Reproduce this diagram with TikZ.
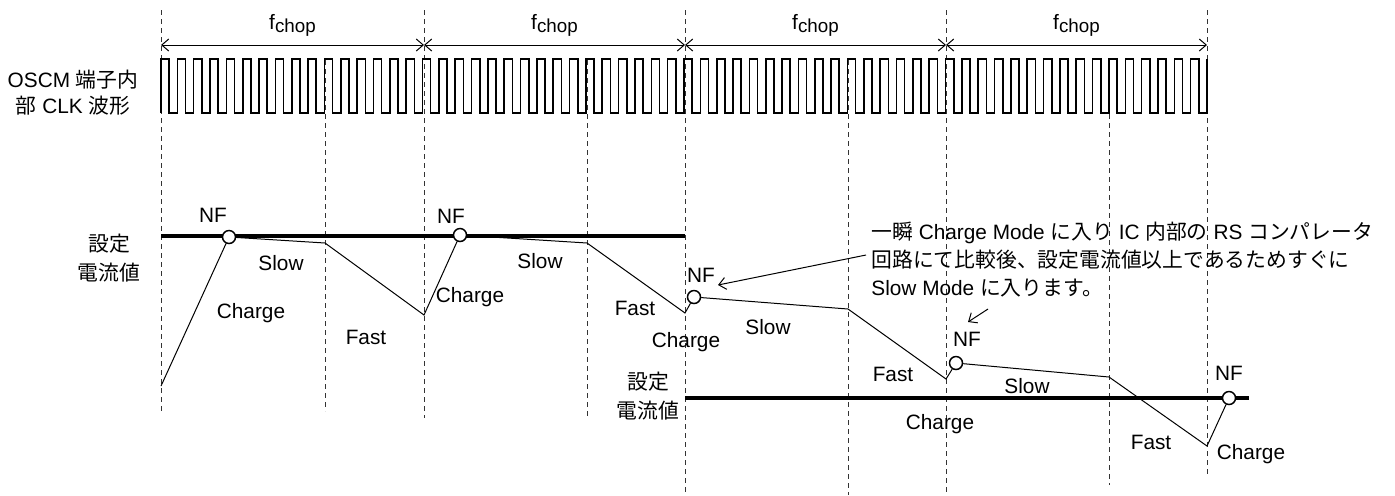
\documentclass[tikz,border=0pt]{standalone}
\usepackage{fontspec}
\setmainfont{Liberation Sans}
\newfontfamily\jpfont{Noto Sans CJK JP}
\newcommand{\jp}[1]{{\jpfont #1}}
\newcommand{\fchop}{f\raisebox{-0.3ex}{\fontsize{9.4}{11}\selectfont chop}}
\usetikzlibrary{arrows.meta,positioning}

\begin{document}
\begin{tikzpicture}[
    % GLOBAL CFG
    x=0.5pt, y=-0.5pt,
    font=\fontsize{10.4}{12}\selectfont,
    >={Straight Barb[length=3.5pt,width=6pt]},
    % Styles
    tmark/.style={% dashed time marks
        dash pattern=on 2.5pt off 2pt,
        line width=0.5pt,
        black!80,
        },
    clk/.style={% clock waveform
        line width=0.8pt,
        },
    setline/.style={% set current level
        line width=2.3pt,
        },
    wave/.style={% coil current
        line width=0.5pt,
        },
    nf/.style={% NF point
        circle,
        draw,
        fill=white,
        line width=0.75pt,
        minimum size=6.5pt,
        inner sep=0pt,
        },
    lbl/.style={% small text
        inner sep=0pt,
        },
    ]
    \useasboundingbox (0,0) rectangle (1395,495);

    % Dashed time marks (x / top / bottom)
    \foreach \x/\t/\b in {161/10/413, 424/10/418, 685/10/495, 946/10/495, 1207/10/476,
                          325/60/411, 587/60/418, 848/60/495, 1109/60/485}
        \draw[tmark] (\x,\t) -- (\x,\b);

    % f_chop periods
    \foreach \a/\b in {161/424, 424/685, 685/946, 946/1207}
        \draw[<->, wave] (\a,45) -- (\b,45) node[midway, above=0.5pt] {\fchop};

    % Clock: 16 cycles per period
    \node[align=center, font=\fontsize{10.4}{13}\selectfont] (clklabel) at (73,93)
        {OSCM \jp{端子内}\\\jp{部} CLK \jp{波形}};
    \draw[clk] (161,113) \foreach \k in {1,...,64} {
        -- ++(0,-54) -- ++(8.172,0) -- ++(0,54) -- ++(8.172,0) } -- ++(0,-54);

    % Set current levels
    \node[align=center, font=\fontsize{10.4}{14.2}\selectfont] (set1) at (109,258) {\jp{設定}\\\jp{電流値}};
    \node[align=center, font=\fontsize{10.4}{14.2}\selectfont] (set2) at (648,396) {\jp{設定}\\\jp{電流値}};
    \coordinate (s1a) at (161,236);
    \coordinate (s1b) at (685,236);
    \coordinate (s2a) at (685,398);
    \coordinate (s2b) at (1249,398);
    \draw[setline] (s1a) -- (s1b);
    \draw[setline] (s2a) -- (s2b);

    % Current waveform points
    \coordinate (a0) at (161,386);
    \coordinate (a1) at (325,243);
    \coordinate (a2) at (424,315);
    \coordinate (a3) at (587,243);
    \coordinate (a4) at (685,313);
    \coordinate (a5) at (848,309);
    \coordinate (a6) at (946,379);
    \coordinate (a7) at (1109,377);
    \coordinate (a8) at (1207,446);
    \node[nf] (nf1) at (229,237) {};
    \node[nf] (nf2) at (460,235) {};
    \node[nf] (nf3) at (694,297) {};
    \node[nf] (nf4) at (956,363) {};
    \node[nf] (nf5) at (1229,398) {};

    \draw[wave] (a0) -- (nf1) -- (a1) -- (a2) -- (nf2) -- (a3) -- (a4) -- (nf3)
        -- (a5) -- (a6) -- (nf4) -- (a7) -- (a8) -- (nf5);

    % Labels
    \foreach \p/\q in {213/215, 451/216, 701/275, 967/339, 1229/373}
        \node[lbl] at (\p,\q) {NF};
    \foreach \p/\q in {281/263, 540/261, 768/327, 1027/386}
        \node[lbl] at (\p,\q) {Slow};
    \foreach \p/\q in {251/313, 470/297, 686/342, 940/424, 1251/454}
        \node[lbl] at (\p,\q) {Charge};
    \foreach \p/\q in {366/337, 635/308, 893/374, 1151/442}
        \node[lbl] at (\p,\q) {Fast};

    % Note
    \node[lbl, anchor=west, align=left, font=\fontsize{10.4}{14}\selectfont] (note) at (871,260)
        {\jp{一瞬} Charge Mode \jp{に入り} IC \jp{内部の} RS \jp{コンパレータ}\\
         \jp{回路にて比較後、設定電流値以上であるためすぐに}\\
         Slow Mode \jp{に入ります。}};
    \coordinate (c1s) at (866,255);
    \coordinate (c1e) at (718,285);
    \coordinate (c2s) at (988,309);
    \coordinate (c2e) at (968,322);
    \draw[->, wave] (c1s) -- (c1e);
    \draw[->, wave] (c2s) -- (c2e);

\end{tikzpicture}
\end{document}
